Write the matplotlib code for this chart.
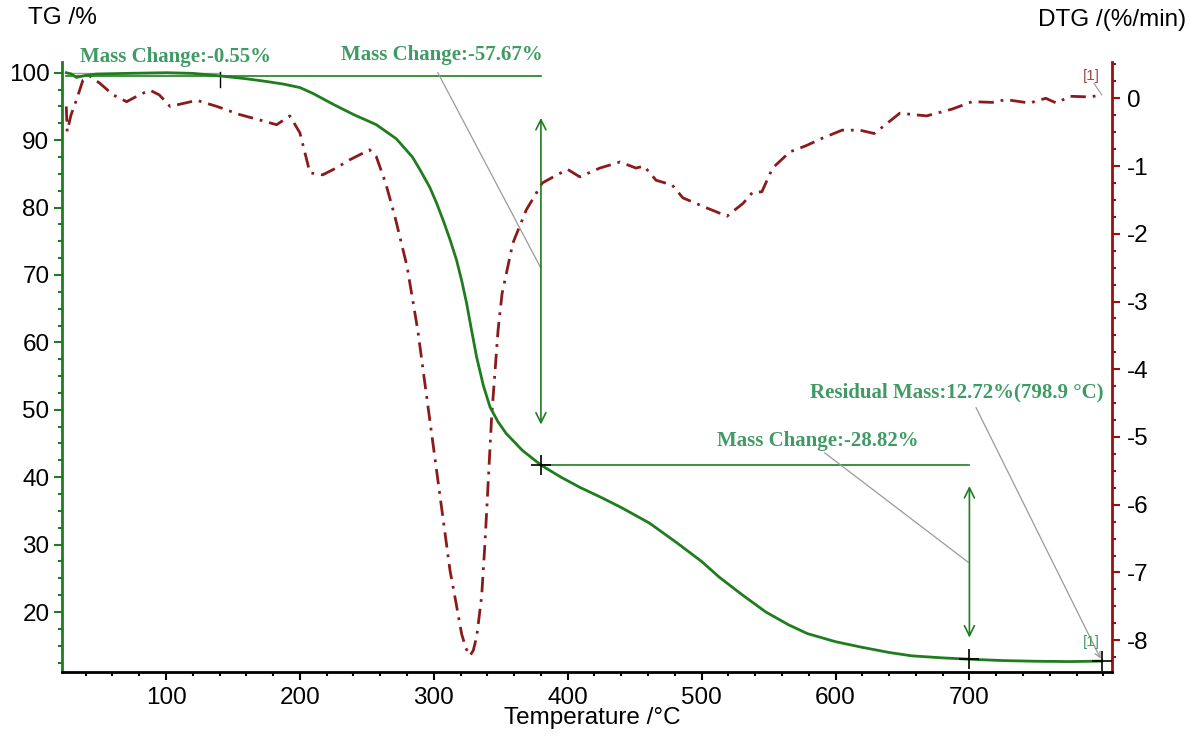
import numpy as np
import matplotlib
matplotlib.use('Agg')
import matplotlib.pyplot as plt
from matplotlib.ticker import MultipleLocator

# TG curve (mass %)
tg_temp = [25.5, 29.5, 33, 40, 48, 70, 100.5, 120, 141.5, 160, 175, 188, 200, 210, 225, 240,
           257, 272, 284, 290, 297, 302, 307, 312, 317, 321, 324.5, 328, 332, 337, 342, 348,
           354, 366, 380, 395, 409, 425, 440, 461, 482, 500, 513, 530, 548, 565, 579, 600,
           619, 640, 657, 680, 700, 725, 749, 775, 798.9]
tg_mass = [100.0, 99.8, 99.3, 99.6, 99.8, 99.9, 100.0, 99.9, 99.5, 99.1, 98.7, 98.3, 97.8,
           96.9, 95.3, 93.8, 92.3, 90.2, 87.5, 85.5, 83.0, 80.7, 78.1, 75.3, 72.2, 69.0,
           65.8, 62.0, 57.8, 53.6, 50.4, 48.2, 46.5, 44.0, 41.8, 40.0, 38.5, 37.0, 35.5,
           33.2, 30.2, 27.5, 25.2, 22.6, 20.0, 18.1, 16.8, 15.6, 14.8, 14.0, 13.5, 13.2,
           13.0, 12.8, 12.7, 12.65, 12.72]

# DTG curve (%/min)
dtg_temp = [25.5, 26.2, 29, 33, 38, 43, 50.7, 60.5, 70.6, 80, 88, 95, 103, 112, 123, 138,
            155, 170, 182.6, 192.5, 200, 207.5, 217, 227, 237, 252, 257, 264, 271, 280,
            288, 294.7, 303.4, 312.1, 316.6, 320.8, 324, 327, 329.5, 332, 335.7, 338.2,
            343.2, 348, 351, 359, 369, 381, 392, 400, 409, 424, 439, 451, 457, 466, 478,
            486, 504, 519, 531, 538, 545, 553, 566, 578, 590, 605, 618, 629, 648, 668,
            687, 702, 717, 727.5, 745, 757, 765, 775, 790, 798.9]
dtg_val = [-0.12, -0.49, -0.25, -0.03, 0.27, 0.33, 0.22, 0.05, -0.05, 0.05, 0.12, 0.05,
           -0.12, -0.08, -0.03, -0.12, -0.24, -0.32, -0.39, -0.26, -0.51, -1.10, -1.13,
           -1.03, -0.91, -0.76, -0.86, -1.25, -1.75, -2.48, -3.42, -4.41, -5.69, -6.97,
           -7.45, -7.91, -8.12, -8.23, -8.15, -7.95, -7.36, -6.57, -4.70, -3.42, -2.88,
           -2.14, -1.65, -1.25, -1.13, -1.05, -1.16, -1.03, -0.94, -1.03, -1.0, -1.21,
           -1.28, -1.47, -1.62, -1.74, -1.55, -1.39, -1.38, -1.03, -0.79, -0.70, -0.59,
           -0.47, -0.47, -0.52, -0.22, -0.26, -0.16, -0.05, -0.06, -0.02, -0.07, 0.0,
           -0.07, 0.03, 0.02, 0.05]

# evaluation points
step_temp = [140, 380, 700]
step_mass = [99.45, 41.78, 12.96]
step_labels = ['Mass Change:-0.55%', 'Mass Change:-57.67%', 'Mass Change:-28.82%']
resid_temp = 798.9
resid_mass = 12.72
resid_label = 'Residual Mass:12.72%(798.9 °C)'

green = '#1f7d1f'
txt_green = '#3f9b63'
red = '#8b1a1a'
grey = '#9a9a9a'

plt.rcParams['font.family'] = ['Liberation Sans', 'DejaVu Sans']

fig = plt.figure(figsize=(12.01, 7.38), dpi=100)
ax = fig.add_axes([0.0516, 0.0894, 0.8743, 0.8266])
ax2 = ax.twinx()

ax2.plot(dtg_temp, dtg_val, color=red, lw=2.0, linestyle=(0, (5.5, 2.5, 1, 2.5)))
ax.plot(tg_temp, tg_mass, color=green, lw=2.0, zorder=5)
ax.set_zorder(ax2.get_zorder() + 1)
ax.patch.set_visible(False)

ax.set_xlim(22.3, 806.5)
ax.set_ylim(11.1, 101.59)
ax2.set_ylim(-8.47, 0.536)

# spines
for a in (ax, ax2):
    a.spines['top'].set_visible(False)
ax.spines['left'].set_color(green)
ax.spines['left'].set_linewidth(2)
ax.spines['bottom'].set_color('black')
ax.spines['bottom'].set_linewidth(2)
ax.spines['right'].set_visible(False)
ax2.spines['left'].set_visible(False)
ax2.spines['bottom'].set_visible(False)
ax2.spines['right'].set_color('#9a1010')
ax2.spines['right'].set_linewidth(2)

ax.xaxis.set_major_locator(MultipleLocator(100))
ax.xaxis.set_minor_locator(MultipleLocator(20))
ax.yaxis.set_major_locator(MultipleLocator(10))
ax.yaxis.set_minor_locator(MultipleLocator(2.5))
ax2.yaxis.set_major_locator(MultipleLocator(1))
ax2.yaxis.set_minor_locator(MultipleLocator(0.25))

ax.tick_params(axis='x', which='major', length=6, width=1.5, color='black', labelsize=17.5, pad=5)
ax.tick_params(axis='x', which='minor', length=3, width=1.5, color='black')
ax.tick_params(axis='y', which='major', length=6, width=1.5, color=green, labelsize=17.5, pad=3)
ax.tick_params(axis='y', which='minor', length=3, width=1.5, color=green)
ax2.tick_params(axis='y', which='major', length=6, width=1.5, color='#9a1010', labelsize=17.5, pad=5)
ax2.tick_params(axis='y', which='minor', length=3, width=1.5, color='#9a1010')
ax.set_xticks([100, 200, 300, 400, 500, 600, 700])
ax.set_yticks([20, 30, 40, 50, 60, 70, 80, 90, 100])
ax2.set_yticks([0, -1, -2, -3, -4, -5, -6, -7, -8])
ax2.set_yticklabels(['0', '-1', '-2', '-3', '-4', '-5', '-6', '-7', '-8'])

# step lines and arrows
ax.plot([tg_temp[0], step_temp[0]], [100.0, 100.0], color=grey, lw=1)
ax.plot([tg_temp[0], step_temp[1]], [step_mass[0], step_mass[0]], color=green, lw=1.2)
ax.plot([step_temp[1], step_temp[2]], [step_mass[1], step_mass[1]], color=green, lw=1.2)
ax.plot([step_temp[0], step_temp[0]], [step_mass[0] + 0.6, step_mass[0] - 1.5], color='black', lw=1)

ax.annotate('', xy=(step_temp[1], 93.7), xytext=(step_temp[1], 47.4),
            arrowprops=dict(arrowstyle='<->', color=green, lw=1.2, mutation_scale=18))
ax.annotate('', xy=(step_temp[2], 39.1), xytext=(step_temp[2], 15.8),
            arrowprops=dict(arrowstyle='<->', color=green, lw=1.2, mutation_scale=18))

ax.plot(step_temp[1:] + [resid_temp], step_mass[1:] + [resid_mass], linestyle='none',
        marker='+', markersize=14, mew=1.2, color='black', zorder=6)

# leader lines
ax.plot([303, 380], [100.0, 71.0], color=grey, lw=0.9)
ax.plot([592, 699], [43.6, 27.4], color=grey, lw=0.9)
ax.annotate('', xy=(resid_temp, resid_mass), xytext=(704, 50.7),
            arrowprops=dict(arrowstyle='->', color=grey, lw=0.9, mutation_scale=10))

tfont = dict(family='Liberation Serif', weight='bold', size=15, color=txt_green)
ax.text(36, 102.3, step_labels[0], ha='left', va='center', clip_on=False, **tfont)
ax.text(381.5, 102.6, step_labels[1], ha='right', va='center', clip_on=False, **tfont)
ax.text(662, 45.4, step_labels[2], ha='right', va='center', **tfont)
ax.text(799.8, 52.5, resid_label, ha='right', va='center', **tfont)

ax.text(791, 15.6, '[1]', ha='center', va='center', color=txt_green, fontsize=11)
ax2.text(791, 0.33, '[1]', ha='center', va='center', color='#9a4a4a', fontsize=11)
ax2.plot([793, 798.9], [0.22, 0.05], color=grey, lw=0.8)

fig.text(0.0233, 0.9756, 'TG /%', ha='left', va='center', fontsize=17.5)
fig.text(0.9875, 0.973, 'DTG /(%/min)', ha='right', va='center', fontsize=17.5)
fig.text(0.493, 0.027, 'Temperature /°C', ha='center', va='center', fontsize=17.5)

fig.savefig('out.png', dpi=100)
